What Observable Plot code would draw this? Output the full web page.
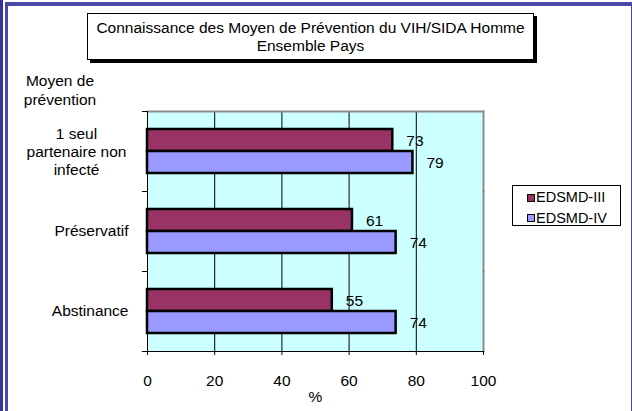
<!DOCTYPE html>
<html>
<head>
<meta charset="utf-8">
<script src="https://cdn.jsdelivr.net/npm/d3@7"></script>
<script src="https://cdn.jsdelivr.net/npm/@observablehq/plot@0.6"></script>
<style>
html, body { margin: 0; padding: 0; background: #fff; }
#wrap { position: relative; width: 632px; height: 411px; overflow: hidden; font-family: "Liberation Sans", Arial, sans-serif; color: #000; }
.bd { position: absolute; }
#chart { position: absolute; left: 0; top: 0; }
#title { position: absolute; left: 87px; top: 13px; width: 445px; height: 45px; border: 1px solid #000; box-shadow: 3px 3px 0 #000; background: #fff; font-size: 15.5px; line-height: 18px; text-align: center; display: flex; flex-direction: column; justify-content: center; }
#ytitle { position: absolute; left: 10px; width: 100px; top: 71px; text-align: center; font-size: 15.5px; line-height: 19px; }
#legend { position: absolute; left: 512px; top: 185px; border: 1px solid #000; background: #fff; padding: 2px 0 0 14px; box-sizing: border-box; width: 109px; height: 41px; }
#legend svg { border: 1.5px solid #000; margin-right: 1px !important; }
</style>
</head>
<body>
<div id="wrap">
  <div class="bd" style="left:0;top:0;width:3px;height:411px;background:#333399"></div>
  <div class="bd" style="left:5px;top:2px;width:3px;height:409px;background:#4a4aa6"></div>
  <div class="bd" style="left:5px;top:2px;width:627px;height:4px;background:#4a4aa6"></div>
  <div class="bd" style="left:631px;top:2px;width:1px;height:409px;background:#4a4aa6"></div>
  <div id="chart"></div>
  <div id="title"><div>Connaissance des Moyen de Prévention du VIH/SIDA Homme</div><div>Ensemble Pays</div></div>
  <div id="ytitle">Moyen de<br>prévention</div>
  <div id="legend"></div>
</div>
<script>
// ---- data ----
const categories = ["1 seul\npartenaire non\ninfecté", "Préservatif", "Abstinance"];
const series = ["EDSMD-III", "EDSMD-IV"];
const edsmd3 = [73, 61, 55];
const edsmd4 = [79, 74, 74];
const xTicks = [0, 20, 40, 60, 80, 100];
const colors = ["#993366", "#9999FF"];
const xLabel = "%";

const table = categories.flatMap((c, i) => [
  {cat: c, serie: series[0], value: edsmd3[i]},
  {cat: c, serie: series[1], value: edsmd4[i]}
]);

// ---- layout ----
const W = 632, H = 411, mL = 147, mR = 149, mT = 111, mB = 60;
const plotW = W - mL - mR;
const tk = 5;
const font = "'Liberation Sans', Arial, sans-serif";

const chart = Plot.plot({
  width: W, height: H,
  marginLeft: mL, marginRight: mR, marginTop: mT, marginBottom: mB,
  style: {fontFamily: font, fontSize: "15.5px", background: "transparent", color: "#000", overflow: "visible"},
  x: {domain: [0, 100], axis: null},
  y: {domain: series, axis: null, paddingInner: 0, paddingOuter: 0.78},
  fy: {domain: categories, axis: null, padding: 0},
  color: {domain: series, range: colors},
  marks: [
    Plot.frame({fill: "#CCFFFF", stroke: "none"}),
    Plot.gridX({ticks: xTicks.slice(1, -1), stroke: "#000", strokeOpacity: 1, strokeWidth: 1}),
    Plot.frame({anchor: "right", stroke: "#8c8c8c", strokeWidth: 2}),
    Plot.frame({anchor: "top", stroke: "#8c8c8c", strokeWidth: 2, fy: categories[0]}),
    Plot.frame({anchor: "left", stroke: "#000", strokeWidth: 1}),
    Plot.frame({anchor: "top", stroke: "#000", strokeWidth: 1, insetLeft: -tk, insetRight: plotW}),
    Plot.frame({anchor: "bottom", stroke: "#000", strokeWidth: 1.2, insetLeft: -tk, fy: categories[categories.length - 1]}),
    Plot.barX(table, {x: "value", y: "serie", fy: "cat", fill: "serie", stroke: "#000", strokeWidth: 2.5}),
    Plot.text(table, {x: "value", y: "serie", fy: "cat", text: d => String(d.value), textAnchor: "start", dx: 13.5, dy: 1, fill: "#000", fontSize: 15.5}),
    Plot.axisX({ticks: xTicks, tickSize: 4, tickPadding: 19, stroke: "#000", label: xLabel, labelAnchor: "center", labelOffset: 50, labelArrow: "none"}),
    Plot.axisFy({anchor: "left", label: null, ticks: [categories[0]], tickSize: 0, tickPadding: 19, textAnchor: "middle", dx: -52, lineHeight: 1.16}),
    Plot.axisFy({anchor: "left", label: null, ticks: categories.slice(1), tickSize: 0, tickPadding: 19})
  ]
});
document.getElementById("chart").appendChild(chart);

const leg = Plot.legend({
  color: {domain: series, range: colors},
  columns: 1,
  swatchSize: 6,
  style: {fontFamily: font, fontSize: "14.5px", lineHeight: "19.5px", margin: "0", color: "#000", background: "transparent"}
});
document.getElementById("legend").appendChild(leg);
</script>
</body>
</html>
